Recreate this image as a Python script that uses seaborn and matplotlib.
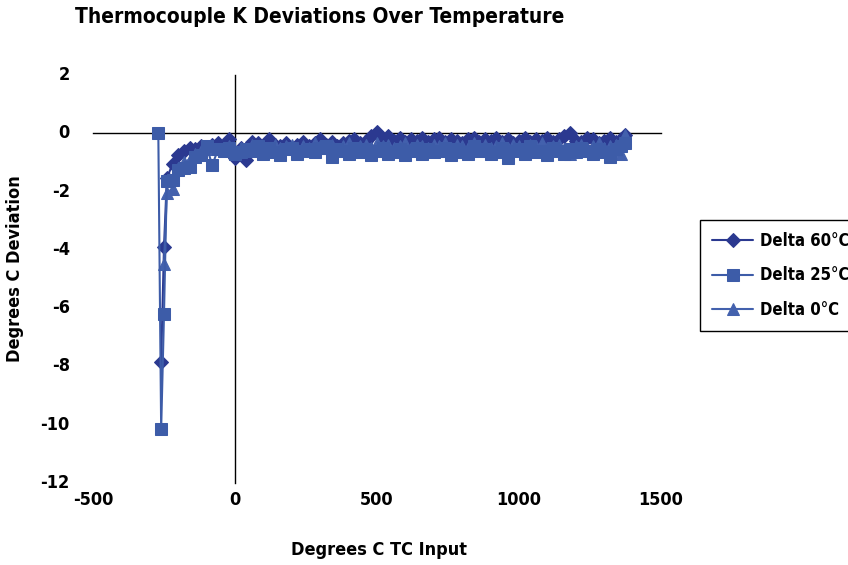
import matplotlib
matplotlib.use("Agg")
import matplotlib.pyplot as plt
import matplotlib.transforms as mtransforms
import seaborn as sns

# temperatures shared by all three series (deg C)
temps = [-250, -240, -220, -200, -180, -160, -140, -120, -100, -80, -60, -40, -20,
         0, 20, 40, 60, 80, 100, 120, 140, 160, 180, 200, 220, 240, 260, 280, 300,
         320, 340, 360, 380, 400, 420, 440, 460, 480, 500, 520, 540, 560, 580, 600,
         620, 640, 660, 680, 700, 720, 740, 760, 780, 800, 820, 840, 860, 880, 900,
         920, 940, 960, 980, 1000, 1020, 1040, 1060, 1080, 1100, 1120, 1140, 1160,
         1180, 1200, 1220, 1240, 1260, 1280, 1300, 1320, 1340, 1360, 1372]

# extra low-end readings
d60_head_x = [-260]
d60_head = [-7.85]
d25_head_x = [-270, -260]
d25_head = [0.0, -10.15]

delta_60 = [-3.90, -1.55, -1.05, -0.75, -0.60, -0.50, -0.55, -0.45, -0.50, -0.40, -0.35, -0.45, -0.20,
            -0.85, -0.50, -0.90, -0.30, -0.35, -0.45, -0.20, -0.40, -0.45, -0.35, -0.50, -0.40, -0.30,
            -0.45, -0.35, -0.20, -0.40, -0.30, -0.45, -0.35, -0.25, -0.20, -0.35, -0.25, -0.10, 0.05,
            -0.20, -0.10, -0.25, -0.15, -0.30, -0.20, -0.25, -0.15, -0.30, -0.20, -0.15, -0.30, -0.20,
            -0.25, -0.35, -0.20, -0.15, -0.30, -0.20, -0.25, -0.15, -0.30, -0.20, -0.35, -0.25, -0.15,
            -0.30, -0.20, -0.25, -0.15, -0.30, -0.20, -0.10, 0.00, -0.25, -0.30, -0.15, -0.20, -0.35,
            -0.25, -0.15, -0.30, -0.20, -0.05]

delta_25 = [-6.20, -1.65, -1.60, -1.25, -1.20, -1.15, -0.80, -0.75, -0.45, -1.10, -0.55, -0.60, -0.50,
            -0.70, -0.65, -0.55, -0.60, -0.45, -0.70, -0.50, -0.65, -0.75, -0.55, -0.50, -0.70, -0.60,
            -0.55, -0.65, -0.50, -0.45, -0.80, -0.55, -0.60, -0.70, -0.50, -0.65, -0.55, -0.75, -0.60,
            -0.50, -0.70, -0.65, -0.55, -0.75, -0.60, -0.50, -0.70, -0.55, -0.65, -0.60, -0.50, -0.75,
            -0.55, -0.65, -0.70, -0.45, -0.60, -0.55, -0.70, -0.65, -0.50, -0.85, -0.60, -0.55, -0.70,
            -0.45, -0.65, -0.60, -0.75, -0.50, -0.60, -0.70, -0.55, -0.65, -0.50, -0.60, -0.70, -0.55,
            -0.65, -0.80, -0.55, -0.45, -0.35]

delta_0 = [-4.50, -2.05, -1.90, -1.20, -1.00, -0.90, -0.70, -0.60, -0.55, -0.50, -0.55, -0.50, -0.45,
           -0.60, -0.50, -0.55, -0.40, -0.50, -0.45, -0.55, -0.40, -0.50, -0.45, -0.40, -0.55, -0.45,
           -0.50, -0.35, -0.45, -0.50, -0.40, -0.55, -0.45, -0.35, -0.50, -0.45, -0.40, -0.50, -0.35,
           -0.45, -0.40, -0.50, -0.45, -0.35, -0.50, -0.40, -0.45, -0.50, -0.40, -0.45, -0.35, -0.50,
           -0.40, -0.45, -0.50, -0.35, -0.45, -0.40, -0.50, -0.45, -0.35, -0.50, -0.40, -0.45, -0.50,
           -0.40, -0.45, -0.35, -0.50, -0.45, -0.40, -0.55, -0.70, -0.45, -0.40, -0.50, -0.45, -0.35,
           -0.50, -0.45, -0.40, -0.70, -0.05]

x_ticks = [-500, 0, 500, 1000, 1500]
y_ticks = [2, 0, -2, -4, -6, -8, -10, -12]

sns.set_style("white")
plt.rcParams["font.family"] = ["Liberation Sans Narrow", "DejaVu Sans Condensed", "DejaVu Sans"]
plt.rcParams["font.stretch"] = "condensed"
plt.rcParams["font.weight"] = "bold"
plt.rcParams["text.color"] = "black"

fig = plt.figure(figsize=(8.48, 5.65), dpi=100)
ax = fig.add_axes([93 / 848, 82 / 565, 568 / 848, 408 / 565])

# series: diamonds first, squares drawn last (on top)
sns.lineplot(x=d60_head_x + temps, y=d60_head + delta_60, marker="D", markersize=7,
             color="#2b3990", markeredgecolor="#2b3990", linewidth=1.5,
             label="Delta 60°C", ax=ax, zorder=3)
sns.lineplot(x=temps, y=delta_0, marker="^", markersize=8,
             color="#4361ad", markeredgecolor="#4361ad", linewidth=1.5,
             label="Delta 0°C", ax=ax, zorder=4)
sns.lineplot(x=d25_head_x + temps, y=d25_head + delta_25, marker="s", markersize=8,
             color="#3d5ca8", markeredgecolor="#3d5ca8", linewidth=1.5,
             label="Delta 25°C", ax=ax, zorder=5)

ax.set_xlim(-500, 1500)
ax.set_ylim(-12, 2)

# excel-style axes crossing at zero
for side in ["top", "right"]:
    ax.spines[side].set_visible(False)
ax.spines["left"].set_position(("data", 0))
ax.spines["bottom"].set_position(("data", 0))
ax.spines["left"].set_color("black")
ax.spines["bottom"].set_color("black")
ax.spines["left"].set_linewidth(1)
ax.spines["bottom"].set_linewidth(1)

ax.set_yticks(y_ticks)
ax.set_xticks(x_ticks)
ax.tick_params(axis="y", direction="out", length=4, width=1, color="black", labelleft=False)
ax.tick_params(axis="x", length=0, labelbottom=False)
ax.set_xlabel("")
ax.set_ylabel("")

# tick labels sit at the low end, away from the crossing axes
ytrans = mtransforms.blended_transform_factory(ax.transAxes, ax.transData)
for v in y_ticks:
    ax.text(-0.041, v, str(v), transform=ytrans, ha="right", va="center",
            fontsize=13, fontweight="bold")
xtrans = mtransforms.blended_transform_factory(ax.transData, ax.transAxes)
for v in x_ticks:
    ax.text(v, -0.042, str(v), transform=xtrans, ha="center", va="center",
            fontsize=13, fontweight="bold")

fig.text(75 / 848, 1 - 17 / 565, "Thermocouple K Deviations Over Temperature",
         ha="left", va="center", fontsize=15, fontweight="bold")
fig.text(379 / 848, 1 - 550 / 565, "Degrees C TC Input",
         ha="center", va="center", fontsize=13, fontweight="bold")
fig.text(15 / 848, 1 - 269 / 565, "Degrees C Deviation", rotation=90,
         ha="center", va="center", fontsize=13, fontweight="bold")

handles, labels = ax.get_legend_handles_labels()
order = [labels.index(l) for l in ["Delta 60°C", "Delta 25°C", "Delta 0°C"]]
ax.get_legend().remove()
leg = fig.legend([handles[i] for i in order], [labels[i] for i in order],
                 loc="upper left", bbox_to_anchor=(700 / 848, 1 - 220 / 565),
                 frameon=True, fancybox=False, edgecolor="black", framealpha=1,
                 prop={"size": 12, "weight": "bold"}, handlelength=2.5,
                 handletextpad=0.4, labelspacing=1.0, borderpad=0.7,
                 borderaxespad=0)
leg.get_frame().set_linewidth(1)

fig.savefig("out.png", dpi=100)
